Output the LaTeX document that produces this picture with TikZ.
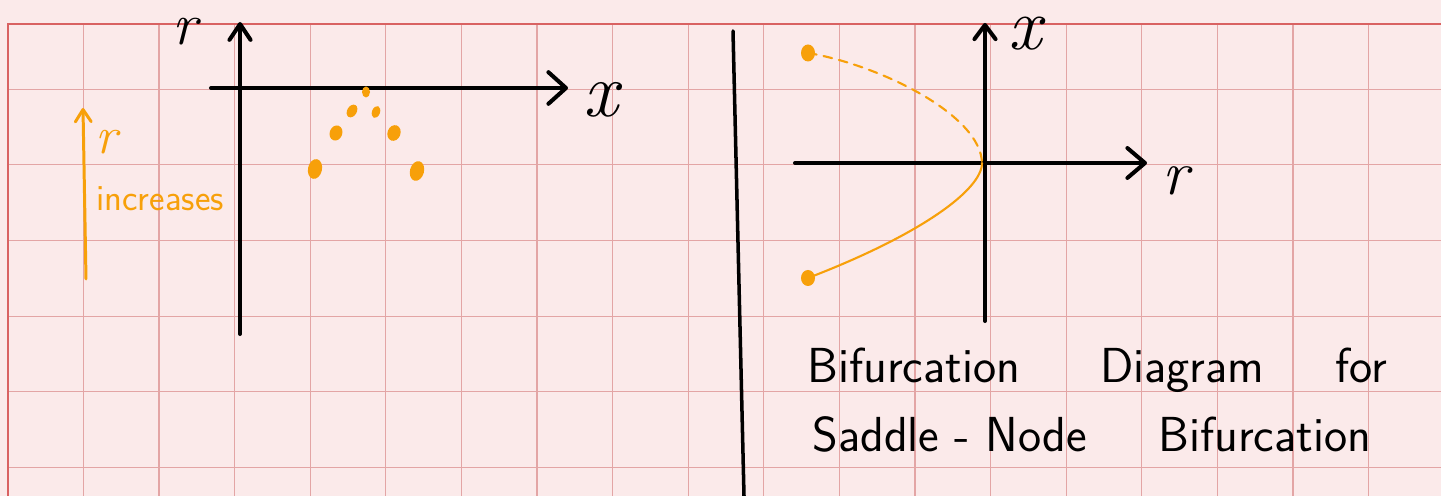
\documentclass[tikz,border=0pt]{standalone}
\usepackage{fontspec}
\usetikzlibrary{arrows.meta}
\definecolor{paper}{RGB}{251,234,234}
\definecolor{gridred}{RGB}{227,165,165}
\definecolor{edgered}{RGB}{217,98,98}
\definecolor{marker}{RGB}{247,160,10}
\newcommand{\sz}[1]{\fontsize{#1}{#1}\selectfont}
\begin{document}
\begin{tikzpicture}[x=0.02cm,y=-0.02cm,
	gridline/.style={gridred,line width=0.6pt},
	edgeline/.style={edgered,line width=0.9pt},
	axis/.style 2 args={line width=2.3pt,line cap=round,-{Straight Barb[length=#1,width=#2,round]}},
	pen/.style={line width=2pt,line cap=round},
	orangepen/.style={marker,line width=1.2pt,line cap=round},
	lbl/.style={inner sep=0pt}]
	\useasboundingbox[fill=paper] (0,0) rectangle (1441,496);
	\foreach \k in {1,...,18}
		\draw[gridline] ({7.8+75.6*\k},24) -- ({7.8+75.6*\k},496);
	\foreach \k in {0,...,5}
		\draw[gridline] (7.8,{89.3+75.6*\k}) -- (1441,{89.3+75.6*\k});
	\draw[edgeline] (7.8,496) -- (7.8,24) -- (1441,24);
	\coordinate (lyBot) at (240,334);
	\coordinate (lyTop) at (240,22);
	\coordinate (lxL) at (211,88);
	\coordinate (lxR) at (568,88);
	\draw[axis={9pt}{12pt}] (lyBot) -- (lyTop);
	\draw[axis={10pt}{18pt}] (lxL) -- (lxR);
	\node[lbl] (lr) at (185,32) {\sz{34}\itshape r};
	\node[lbl] (lx) at (601,100) {\sz{44}\itshape x};
	\coordinate (upBot) at (86,279);
	\coordinate (upTop) at (83,108);
	\draw[orangepen,line width=1.7pt,-{Straight Barb[length=7pt,width=9pt,round]}] (upBot) -- (upTop);
	\node[lbl,marker] (upr) at (106,142) {\sz{30}\itshape r};
	\node[lbl,marker,anchor=base west] (upinc) at (96,211) {\sz{21}\sffamily increases};
	\fill[marker,rotate around={-12:(315,169)}] (315,169) ellipse [x radius=7,y radius=10];
	\fill[marker,rotate around={-20:(336,133)}] (336,133) ellipse [x radius=6.3,y radius=7.7];
	\fill[marker,rotate around={-30:(352,111)}] (352,111) ellipse [x radius=4.8,y radius=6.8];
	\fill[marker] (366,92) ellipse [x radius=4,y radius=5.5];
	\fill[marker,rotate around={-20:(376,112)}] (376,112) ellipse [x radius=4,y radius=6.2];
	\fill[marker,rotate around={-20:(394,133)}] (394,133) ellipse [x radius=6.5,y radius=8];
	\fill[marker,rotate around={-15:(417,171)}] (417,171) ellipse [x radius=7,y radius=10];
	\coordinate (sepTop) at (733,31);
	\coordinate (sepBot) at (744,496);
	\draw[pen] (sepTop) -- (sepBot);
	\coordinate (ryBot) at (985,321);
	\coordinate (ryTop) at (985,23);
	\coordinate (rxL) at (795,163);
	\coordinate (rxR) at (1147,163);
	\draw[axis={8pt}{12pt}] (ryBot) -- (ryTop);
	\draw[axis={10pt}{17pt}] (rxL) -- (rxR);
	\node[lbl] (rx) at (1025,34) {\sz{42}\itshape x};
	\node[lbl] (rr) at (1176,181) {\sz{36}\itshape r};
	\coordinate (hiEnd) at (808,53);
	\coordinate (loEnd) at (808,278);
	\coordinate (vert) at (982,163);
	\draw[orangepen,dash pattern=on 5pt off 4pt] (hiEnd) .. controls (880,65) and (981,115) .. (vert);
	\draw[orangepen] (vert) .. controls (982,190) and (920,235) .. (loEnd);
	\fill[marker] (hiEnd) ellipse [x radius=7,y radius=8.5];
	\fill[marker] (loEnd) ellipse [x radius=7,y radius=8];
	\node[lbl,anchor=base west] (cap1) at (807,383) {\sz{28}\sffamily\makebox[11.6cm][l]{Bifurcation\hspace*{1.6cm}Diagram\hfill for}};
	\node[lbl,anchor=base west] (cap2) at (812,452) {\sz{28}\sffamily\makebox[11.18cm][l]{Saddle - Node\hfill Bifurcation}};
\end{tikzpicture}
\end{document}
